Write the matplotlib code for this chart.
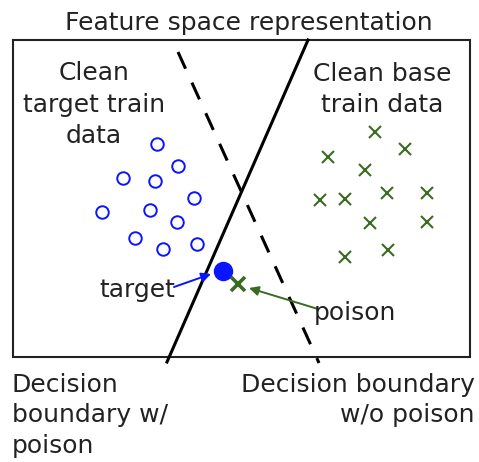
# plot.py
#
# Sketch of the feature-space picture: clean target / base clusters,
# the decision boundary with and without the poison point.
#
import matplotlib
matplotlib.use('Agg')
import matplotlib.pyplot as plt

# --- picture coordinates (pixels, y grows downward) ---
box_x = [13, 470, 470, 13, 13]
box_y = [40, 40, 357, 357, 40]

boundary_poison_x = [308, 167]      # solid line, w/ poison
boundary_poison_y = [40, 362]
boundary_clean_x = [178, 319]       # dashed line, w/o poison
boundary_clean_y = [52, 363]

target_cluster_x = [157, 178, 123, 155, 194, 102, 150, 177, 135, 163, 197]
target_cluster_y = [144, 166, 178, 181, 198, 212, 210, 222, 238, 249, 244]

base_cluster_x = [375, 405, 328, 365, 320, 345, 387, 427, 370, 427, 345, 388]
base_cluster_y = [132, 149, 157, 170, 200, 199, 193, 193, 223, 222, 257, 250]

target_pt = (223, 271)
poison_pt = (238, 284)

BLUE = '#0a14ff'
GREEN = '#3b6b22'

fig = plt.figure(figsize=(4.79, 4.62), dpi=100)
ax = fig.add_axes([0, 0, 1, 1])
ax.set_xlim(0, 479)
ax.set_ylim(462, 0)
ax.axis('off')

# frame
ax.plot(box_x, box_y, color='#222222', lw=1.5, solid_joinstyle='miter')

# decision boundaries
ax.plot(boundary_poison_x, boundary_poison_y, color='black', lw=2.2)
ax.plot(boundary_clean_x, boundary_clean_y, color='black', lw=2.2,
        dashes=(6, 5), dash_capstyle='butt')

# clean data
ax.plot(target_cluster_x, target_cluster_y, 'o', ls='none', ms=9,
        mfc='none', mec=BLUE, mew=1.4)
ax.plot(base_cluster_x, base_cluster_y, 'x', ls='none', ms=8.5,
        color=GREEN, mew=1.5)

# target and poison
ax.plot(*target_pt, 'o', ms=13, color=BLUE)
ax.plot(*poison_pt, 'x', ms=9.5, color=GREEN, mew=2.6)

ax.annotate('', xy=(211, 274), xytext=(174, 287),
            arrowprops=dict(arrowstyle='-|>', color=BLUE, lw=1.4,
                            mutation_scale=14, shrinkA=0, shrinkB=0))
ax.annotate('', xy=(249, 288), xytext=(318, 309),
            arrowprops=dict(arrowstyle='-|>', color=GREEN, lw=1.4,
                            mutation_scale=14, shrinkA=0, shrinkB=0))

# --- text ---
fs = 18
txt = dict(fontsize=fs, color='#222222', family='DejaVu Sans', va='baseline')

ax.text(249, 30, 'Feature space representation', ha='center', **txt)

ax.text(94, 80, 'Clean', ha='center', **txt)
ax.text(94, 112, 'target train', ha='center', **txt)
ax.text(94, 143, 'data', ha='center', **txt)

ax.text(382, 81, 'Clean base', ha='center', **txt)
ax.text(382, 112, 'train data', ha='center', **txt)

ax.text(175, 297, 'target', ha='right', **txt)
ax.text(314, 320, 'poison', ha='left', **txt)

ax.text(12, 392, 'Decision', ha='left', **txt)
ax.text(12, 422, 'boundary w/', ha='left', **txt)
ax.text(12, 453, 'poison', ha='left', **txt)

ax.text(475, 392, 'Decision boundary', ha='right', **txt)
ax.text(475, 422, 'w/o poison', ha='right', **txt)

fig.savefig('out.png', dpi=100)
